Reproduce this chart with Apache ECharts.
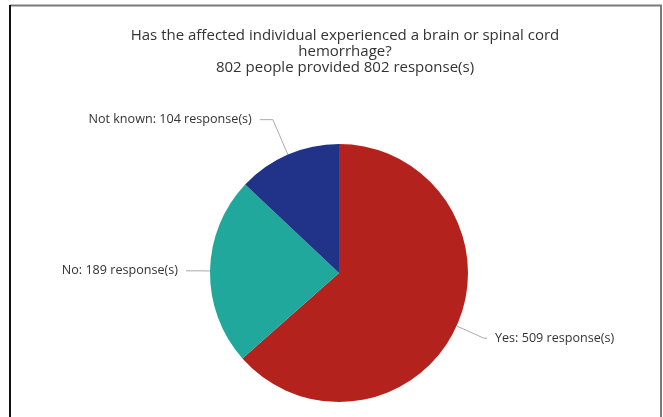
<!DOCTYPE html>
<html>
<head>
<meta charset="utf-8">
<script src="https://cdn.jsdelivr.net/npm/echarts@6/dist/echarts.min.js"></script>
<style>
  html, body { margin: 0; padding: 0; background: #fff; }
  #chart { width: 663px; height: 417px; }
</style>
</head>
<body>
<div id="chart"></div>
<script>
  // answers, clockwise from 12 o'clock
  const categories = ['Yes', 'No', 'Not known']
  const responses = [509, 189, 104]
  const colors = ['#b3221d', '#1fa89b', '#203389']
  // per-slice label line lengths [length, length2]
  const lineLens = [[30, 3], [10, 14], [38, 13]]

  const chart = echarts.init(document.getElementById('chart'))

  const option = {
    backgroundColor: '#fff',
    title: {
      text: 'Has the affected individual experienced a brain or spinal cord\nhemorrhage?\n802 people provided 802 response(s)',
      left: 340,
      textAlign: 'center',
      top: 23,
      textStyle: {
        fontFamily: 'Open Sans',
        fontSize: 15,
        fontWeight: 'normal',
        color: '#333',
        lineHeight: 16
      }
    },
    graphic: [
      // frame around the picture
      { type: 'line', shape: { x1: 10, y1: 5.5, x2: 662, y2: 5.5 }, style: { stroke: '#7a7a7a', lineWidth: 2 } },
      { type: 'line', shape: { x1: 10, y1: 5, x2: 10, y2: 417 }, style: { stroke: '#111', lineWidth: 2 } },
      { type: 'line', shape: { x1: 661, y1: 5, x2: 661, y2: 417 }, style: { stroke: '#7a7a7a', lineWidth: 2 } }
    ],
    series: [
      {
        type: 'pie',
        center: [339, 273],
        radius: 129,
        startAngle: 90,
        clockwise: true,
        avoidLabelOverlap: false,
        label: {
          show: true,
          position: 'outside',
          formatter: '{b}: {c} response(s)',
          fontFamily: 'Open Sans',
          fontSize: 12.6,
          color: '#333',
          distanceToLabelLine: 8
        },
        labelLine: {
          lineStyle: { color: '#aaa', width: 1 }
        },
        emphasis: { disabled: true },
        data: categories.map((name, i) => ({
          name: name,
          value: responses[i],
          itemStyle: { color: colors[i] },
          labelLine: { length: lineLens[i][0], length2: lineLens[i][1] }
        }))
      }
    ]
  }

  chart.setOption(option)
</script>
</body>
</html>
